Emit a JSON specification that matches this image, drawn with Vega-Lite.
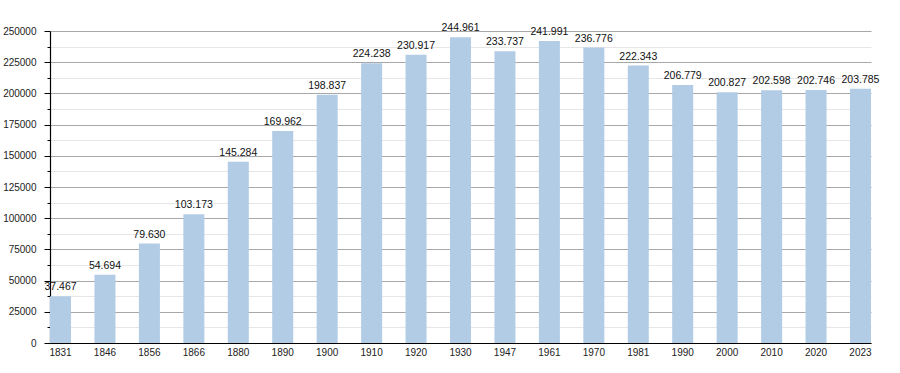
{
  "$schema": "https://vega.github.io/schema/vega-lite/v6.json",
  "width": 821,
  "height": 312,
  "autosize": {"type": "none"},
  "padding": {"left": 50, "top": 31, "right": 29, "bottom": 30},
  "background": "white",
  "config": {
    "locale": {"number": {"decimal": ",", "thousands": ".", "grouping": [3], "currency": ["", ""]}},
    "view": {"stroke": null},
    "font": "Liberation Sans"
  },
  "data": {"values": [
    {"year": "1831", "pop": 37467},
    {"year": "1846", "pop": 54694},
    {"year": "1856", "pop": 79630},
    {"year": "1866", "pop": 103173},
    {"year": "1880", "pop": 145284},
    {"year": "1890", "pop": 169962},
    {"year": "1900", "pop": 198837},
    {"year": "1910", "pop": 224238},
    {"year": "1920", "pop": 230917},
    {"year": "1930", "pop": 244961},
    {"year": "1947", "pop": 233737},
    {"year": "1961", "pop": 241991},
    {"year": "1970", "pop": 236776},
    {"year": "1981", "pop": 222343},
    {"year": "1990", "pop": 206779},
    {"year": "2000", "pop": 200827},
    {"year": "2010", "pop": 202598},
    {"year": "2020", "pop": 202746},
    {"year": "2023", "pop": 203785}
  ]},
  "encoding": {
    "x": {
      "field": "year", "type": "ordinal", "sort": null,
      "scale": {"paddingInner": 0.527, "paddingOuter": 0},
      "axis": {
        "title": null, "labelAngle": 0, "ticks": false, "labelPadding": 4,
        "labelFontSize": 10, "labelColor": "#222", "domainColor": "#000", "domainWidth": 1.2,
        "labelFont": "Liberation Sans"
      }
    },
    "y": {
      "field": "pop", "type": "quantitative",
      "scale": {"domain": [0, 250000], "nice": false},
      "axis": {
        "title": null,
        "values": [0, 12500, 25000, 37500, 50000, 62500, 75000, 87500, 100000, 112500, 125000, 137500, 150000, 162500, 175000, 187500, 200000, 212500, 225000, 237500, 250000],
        "labelExpr": "datum.value % 25000 === 0 ? format(datum.value, 'd') : ''",
        "gridColor": {"condition": {"test": "datum.value % 25000 === 0", "value": "#a8a8a8"}, "value": "#e6e6e6"},
        "tickSize": {"condition": {"test": "datum.value % 25000 === 0", "value": 6}, "value": 3},
        "tickColor": "#000",
        "labelPadding": 8,
        "labelFontSize": 10, "labelColor": "#222", "domainColor": "#000", "domainWidth": 1.2,
        "labelFont": "Liberation Sans"
      }
    }
  },
  "layer": [
    {"mark": {"type": "bar", "color": "#b3cce6"}},
    {
      "mark": {"type": "text", "baseline": "alphabetic", "dy": -6, "fontSize": 10.5, "color": "#111", "font": "Liberation Sans"},
      "encoding": {"text": {"field": "pop", "type": "quantitative", "format": ",d"}}
    }
  ]
}
